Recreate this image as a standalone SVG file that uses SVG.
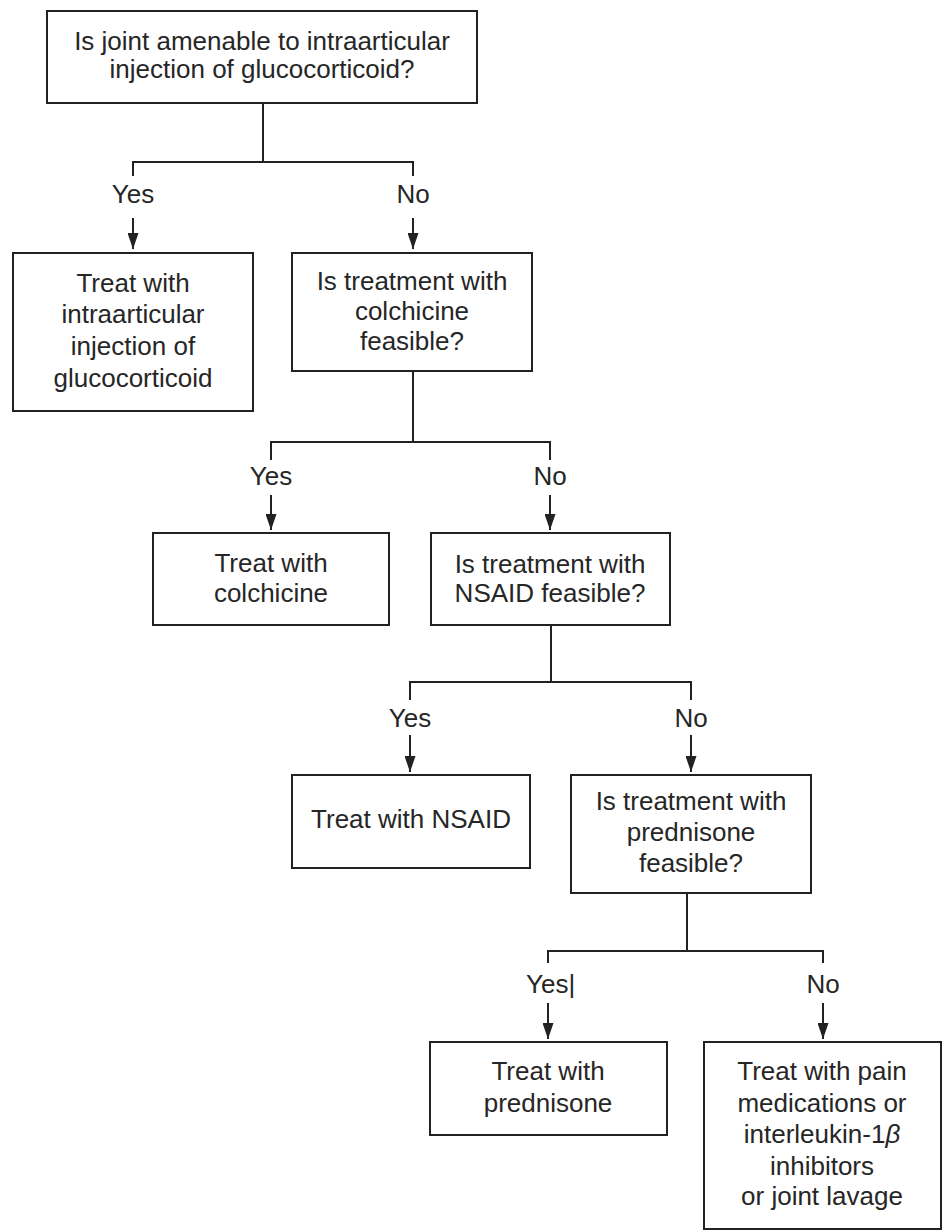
<svg xmlns="http://www.w3.org/2000/svg" width="951" height="1232" viewBox="0 0 951 1232">
<defs>
<marker id="ah" markerUnits="userSpaceOnUse" markerWidth="16" markerHeight="11" viewBox="0 0 16 11" refX="16" refY="5.5" orient="auto">
<path d="M0,0 L16,5.5 L0,11 z" fill="#222"/>
</marker>
<style>
.box{fill:#fff;stroke:#222;stroke-width:2}
.t{font-family:"Liberation Sans",Arial,sans-serif;font-size:26px;fill:#262626;text-anchor:middle}
.c{fill:none;stroke:#222;stroke-width:2}
.a{fill:none;stroke:#222;stroke-width:2;marker-end:url(#ah)}
</style>
</defs>
<rect width="951" height="1232" fill="#fff"/>
<g id="connectors">
<path class="c" d="M263,103 V162 M133,176 V162 H413 V176"/>
<path class="a" d="M133,218 V249"/>
<path class="a" d="M413,218 V249"/>
<path class="c" d="M413,371 V442 M271,460 V442 H550 V460"/>
<path class="a" d="M271,495 V530"/>
<path class="a" d="M550,495 V530"/>
<path class="c" d="M551,625 V682 M410,700 V682 H691 V700"/>
<path class="a" d="M410,735 V772"/>
<path class="a" d="M691,735 V772"/>
<path class="c" d="M687,893 V951 M548,963 V951 H823 V963"/>
<path class="a" d="M548,1003 V1039"/>
<path class="a" d="M823,1003 V1039"/>
<text class="t" x="133" y="203">Yes</text>
<text class="t" x="413" y="203">No</text>
<text class="t" x="271" y="485">Yes</text>
<text class="t" x="550" y="485">No</text>
<text class="t" x="410" y="727">Yes</text>
<text class="t" x="691" y="727">No</text>
<text class="t" x="526" y="993" style="text-anchor:start">Yes|</text>
<text class="t" x="823" y="993">No</text>
</g>
<g id="q1">
<rect class="box" x="47" y="11" width="430" height="92"/>
<text class="t" x="262" y="50">Is joint amenable to intraarticular</text>
<text class="t" x="262" y="78">injection of glucocorticoid?</text>
</g>
<g id="a1">
<rect class="box" x="13" y="253" width="240" height="158"/>
<text class="t" x="133" y="292">Treat with</text>
<text class="t" x="133" y="323">intraarticular</text>
<text class="t" x="133" y="355">injection of</text>
<text class="t" x="133" y="387">glucocorticoid</text>
</g>
<g id="q2">
<rect class="box" x="292" y="253" width="240" height="118"/>
<text class="t" x="412" y="290">Is treatment with</text>
<text class="t" x="412" y="320">colchicine</text>
<text class="t" x="412" y="350">feasible?</text>
</g>
<g id="a2">
<rect class="box" x="153" y="533" width="236" height="92"/>
<text class="t" x="271" y="572">Treat with</text>
<text class="t" x="271" y="602">colchicine</text>
</g>
<g id="q3">
<rect class="box" x="431" y="533" width="239" height="92"/>
<text class="t" x="550" y="573">Is treatment with</text>
<text class="t" x="550" y="602">NSAID feasible?</text>
</g>
<g id="a3">
<rect class="box" x="292" y="775" width="238" height="93"/>
<text class="t" x="411" y="828">Treat with NSAID</text>
</g>
<g id="q4">
<rect class="box" x="571" y="775" width="240" height="118"/>
<text class="t" x="691" y="810">Is treatment with</text>
<text class="t" x="691" y="841">prednisone</text>
<text class="t" x="691" y="872">feasible?</text>
</g>
<g id="a4">
<rect class="box" x="430" y="1042" width="237" height="93"/>
<text class="t" x="548" y="1080">Treat with</text>
<text class="t" x="548" y="1112">prednisone</text>
</g>
<g id="a5">
<rect class="box" x="704" y="1042" width="237" height="187"/>
<text class="t" x="822" y="1080">Treat with pain</text>
<text class="t" x="822" y="1112">medications or</text>
<text class="t" x="822" y="1143">interleukin-1<tspan font-style="italic">β</tspan></text>
<text class="t" x="822" y="1175">inhibitors</text>
<text class="t" x="822" y="1205">or joint lavage</text>
</g>
</svg>
